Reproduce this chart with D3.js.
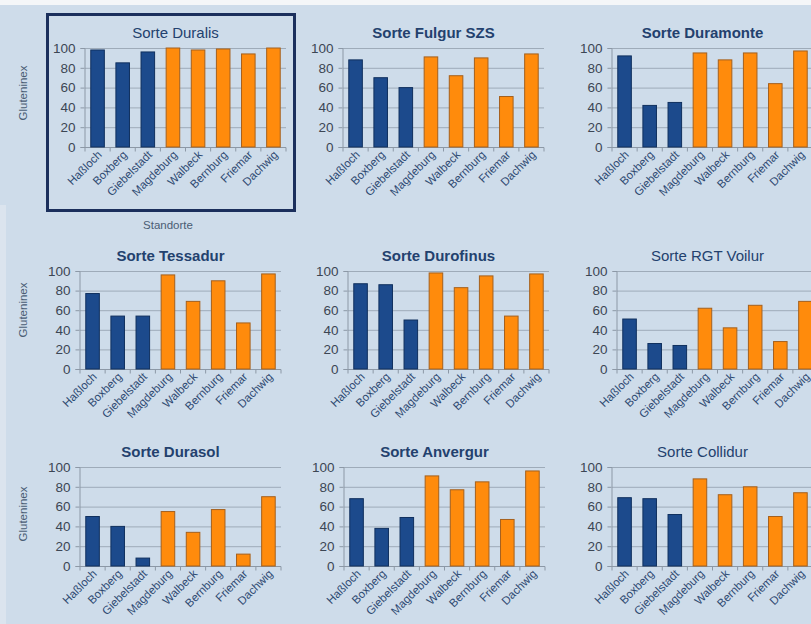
<!DOCTYPE html>
<html lang="de">
<head>
    <meta charset="UTF-8">
    <title>Gluteninex nach Sorte und Standort</title>
    <style>
        body { margin: 0; background: #cedcea; }
        svg { display: block; font-family: "Liberation Sans", Arial, sans-serif; }
        .grid line { stroke: #9eabb9; stroke-width: 1px; }
        .axis path, .axis line { stroke: #8c98a6; }
        .ytick { font-size: 13.5px; fill: #3c4654; }
        .xtick { font-size: 11.5px; fill: #2e4a72; }
        .title { font-size: 15px; fill: #23416e; }
        .ylabel { font-size: 11.5px; fill: #4a5c74; }
    </style>
    <script src="https://d3js.org/d3.v7.min.js"></script>
</head>
<body>
    <script>

        // Standorte (x categories)
        const standorte = ["Haßloch", "Boxberg", "Giebelstadt", "Magdeburg", "Walbeck", "Bernburg", "Friemar", "Dachwig"];
        // first three sites west (blue), rest east (orange)
        const gruppe = ["w", "w", "w", "o", "o", "o", "o", "o"];

        const sorten = ["Sorte Duralis", "Sorte Fulgur SZS", "Sorte Duramonte",
                        "Sorte Tessadur", "Sorte Durofinus", "Sorte RGT Voilur",
                        "Sorte Durasol", "Sorte Anvergur", "Sorte Collidur"];

        // Gluteninex values, one array per variety
        const duralis   = [98, 85, 96, 100, 98, 99, 94, 100];
        const fulgur    = [88, 70, 60, 91, 72, 90, 51, 94];
        const duramonte = [92, 42, 45, 95, 88, 95, 64, 97];
        const tessadur  = [77, 54, 54, 96, 69, 90, 47, 97];
        const durofinus = [87, 86, 50, 98, 83, 95, 54, 97];
        const voilur    = [51, 26, 24, 62, 42, 65, 28, 69];
        const durasol   = [50, 40, 8, 55, 34, 57, 12, 70];
        const anvergur  = [68, 38, 49, 91, 77, 85, 47, 96];
        const collidur  = [69, 68, 52, 88, 72, 80, 50, 74];
        const werte = [duralis, fulgur, duramonte, tessadur, durofinus, voilur, durasol, anvergur, collidur];

        const yTicks = [0, 20, 40, 60, 80, 100];

        // panel placement (plot left, top of 100 line, zero line)
        const layout = [
            { x: 85, top: 48, bottom: 147, bold: false },
            { x: 343, top: 48, bottom: 147, bold: true },
            { x: 612, top: 48, bottom: 147, bold: true },
            { x: 80, top: 271, bottom: 369, bold: true },
            { x: 348, top: 271, bottom: 369, bold: true },
            { x: 617, top: 271, bottom: 369, bold: false },
            { x: 80, top: 467, bottom: 566, bold: true },
            { x: 344, top: 467, bottom: 566, bold: true },
            { x: 612, top: 467, bottom: 566, bold: false }
        ];
        const plotW = 201;

        const svg = d3.select("body").append("svg")
            .attr("width", 811).attr("height", 624);

        svg.append("rect").attr("width", 811).attr("height", 624).attr("fill", "#cedcea");
        svg.append("rect").attr("width", 811).attr("height", 5).attr("fill", "#f4f6f8");
        svg.append("rect").attr("y", 205).attr("width", 6).attr("height", 419).attr("fill", "#dbe4ee");

        const color = d => d === "w" ? "#1c4a8c" : "#ff8b0c";
        const stroke = d => d === "w" ? "#10305e" : "#a4601e";

        sorten.forEach((name, i) => {
            const L = layout[i];
            const x = d3.scaleBand().domain(standorte).range([L.x, L.x + plotW]).paddingInner(0.46).paddingOuter(0.23);
            const y = d3.scaleLinear().domain([0, 100]).range([L.bottom, L.top]);
            const g = svg.append("g");

            // gridlines
            g.append("g").attr("class", "grid")
                .selectAll("line").data(yTicks.slice(1)).enter().append("line")
                .attr("x1", L.x).attr("x2", L.x + plotW)
                .attr("y1", d => y(d) + 0.5).attr("y2", d => y(d) + 0.5);

            // y axis
            const ya = g.append("g").attr("class", "axis")
                .attr("transform", `translate(${L.x - 0.5},0)`)
                .call(d3.axisLeft(y).tickValues(yTicks).tickSize(4).tickPadding(5));
            ya.selectAll("text").attr("class", "ytick").attr("font-family", null).attr("font-size", null).attr("fill", null);

            // x axis with ticks between categories
            const xa = g.append("g").attr("class", "axis")
                .attr("transform", `translate(0,${L.bottom + 0.5})`);
            xa.append("line").attr("x1", L.x).attr("x2", L.x + plotW);
            xa.selectAll(".sep").data(d3.range(standorte.length + 1)).enter().append("line")
                .attr("x1", k => L.x + k * plotW / standorte.length)
                .attr("x2", k => L.x + k * plotW / standorte.length)
                .attr("y1", 0).attr("y2", 4);
            xa.selectAll("text").data(standorte).enter().append("text")
                .attr("class", "xtick")
                .attr("text-anchor", "end")
                .attr("transform", d => `translate(${x(d) + x.bandwidth() / 2 + 5},${8}) rotate(-45)`)
                .text(d => d);

            // bars
            g.selectAll("rect.bar").data(werte[i]).enter().append("rect")
                .attr("class", "bar")
                .attr("x", (d, k) => x(standorte[k]))
                .attr("width", x.bandwidth())
                .attr("y", d => y(d))
                .attr("height", d => y(0) - y(d))
                .attr("fill", (d, k) => color(gruppe[k]))
                .attr("stroke", (d, k) => stroke(gruppe[k]))
                .attr("stroke-width", 1);

            g.append("text").attr("class", "title")
                .attr("x", L.x + plotW / 2 - 10).attr("y", L.top - 10)
                .attr("text-anchor", "middle")
                .attr("font-weight", L.bold ? "bold" : "normal")
                .text(name);
        });

        // y labels on the left column
        [93, 310, 514].forEach(cy => {
            svg.append("text").attr("class", "ylabel")
                .attr("transform", `translate(27,${cy}) rotate(-90)`)
                .attr("text-anchor", "middle")
                .text("Gluteninex");
        });

        // highlighted first chart
        svg.append("rect")
            .attr("x", 47.5).attr("y", 14.5).attr("width", 247).attr("height", 196)
            .attr("fill", "none").attr("stroke", "#1b2f5c").attr("stroke-width", 3);
        svg.append("text").attr("class", "ylabel")
            .attr("x", 168).attr("y", 229).attr("text-anchor", "middle")
            .attr("font-size", "12px")
            .text("Standorte");
    </script>
</body>
</html>
